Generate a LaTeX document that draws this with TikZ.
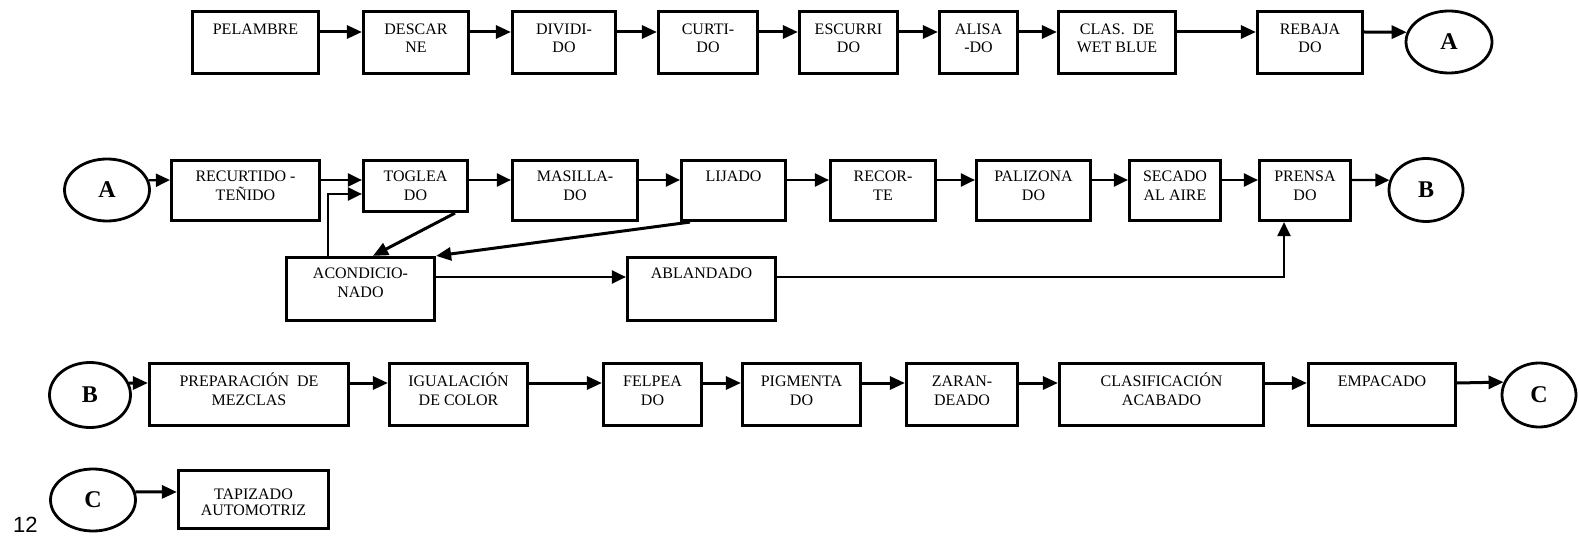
\documentclass[tikz,border=0pt]{standalone}
\usepackage{fontspec}
\setmainfont{Liberation Serif}
\newfontfamily\numfont{Liberation Sans}
\usetikzlibrary{arrows.meta,shapes.geometric}
\newcommand\bx[7][]{%
  \node[box, minimum width={#5-#3-3}, minimum height={#6-#4-3}] (#2) at ({(#3+#5)/2},{(#4+#6)/2}) {};
  \node[txt,#1] (#2t) at ([yshift=-9pt]#2.north) {\rule{0pt}{15pt}#7};
}
\begin{document}
\begin{tikzpicture}[x=1pt,y=-1pt,
  box/.style={draw, line width=3.2pt, inner sep=0pt},
  txt/.style={font=\fontsize{16}{19}\selectfont, align=center, inner sep=0pt, anchor=north},
  rowa/.style={font=\fontsize{16}{18}\selectfont},
  rowb/.style={yshift=1.5pt},
  rowc/.style={yshift=-0.5pt},
  oval/.style={draw, ellipse, line width=2.8pt, inner sep=0pt, font=\fontsize{24}{24}\selectfont\bfseries},
  arr/.style={line width=3pt, -{Triangle[length=15pt,width=13pt]}},
  arrb/.style={line width=2.2pt, -{Triangle[length=14pt,width=13pt]}},
]
\useasboundingbox (0,0) rectangle (1579,537);
\coordinate (ya) at (0,32);
\coordinate (yb) at (0,180);
\coordinate (ybb) at (0,194);
\coordinate (ye) at (0,277);
\coordinate (yc) at (0,383);
\coordinate (yd) at (0,492);

% Row 1
\bx[rowa]{p1}{191}{10}{320}{75}{PELAMBRE}
\bx[rowa]{p2}{362}{10}{470}{75}{DESCAR\\NE}
\bx[rowa]{p3}{511}{10}{617}{75}{DIVIDI-\\DO}
\bx[rowa]{p4}{657}{10}{759}{75}{CURTI-\\DO}
\bx[rowa]{p5}{798}{10}{899}{75}{ESCURRI\\DO}
\bx[rowa]{p6}{938}{10}{1019}{75}{ALISA\\-DO}
\bx[rowa]{p7}{1057}{10}{1177}{75}{CLAS.~~DE\\WET BLUE}
\bx[rowa]{p8}{1256}{10}{1364}{75}{REBAJA\\DO}
\node[oval, minimum width=86pt, minimum height=62pt] (A1) at (1449,42) {A};
\draw[arr] (p1.east |- ya) -- (p2.west |- ya);
\draw[arr] (p2.east |- ya) -- (p3.west |- ya);
\draw[arr] (p3.east |- ya) -- (p4.west |- ya);
\draw[arr] (p4.east |- ya) -- (p5.west |- ya);
\draw[arr] (p5.east |- ya) -- (p6.west |- ya);
\draw[arr] (p6.east |- ya) -- (p7.west |- ya);
\draw[arr] (p7.east |- ya) -- (p8.west |- ya);
\draw[arr] (p8.east |- ya) -- (A1.167);

% Row 2
\node[oval, minimum width=85pt, minimum height=62pt] (A2) at (107,190) {A};
\bx[rowb]{q1}{170}{159}{321}{222}{RECURTIDO -\\TEÑIDO}
\bx[rowb]{q2}{362}{159}{469}{213}{TOGLEA\\DO}
\bx[rowb]{q3}{511}{159}{639}{222}{MASILLA-\\DO}
\bx[rowb]{q4}{680}{159}{787}{222}{LIJADO}
\bx[rowb]{q5}{829}{159}{937}{222}{RECOR-\\TE}
\bx[rowb]{q6}{975}{159}{1092}{222}{PALIZONA\\DO}
\bx[rowb]{q7}{1128}{159}{1222}{222}{SECADO\\AL AIRE}
\bx[rowb]{q8}{1258}{159}{1352}{222}{PRENSA\\DO}
\node[oval, minimum width=74pt, minimum height=63pt] (B1) at (1426,190) {B};
\bx[rowb]{q9}{285}{256}{436}{322}{ACONDICIO-\\NADO}
\bx[rowb]{q10}{626}{256}{777}{322}{ABLANDADO}
\draw[arrb] (A2.13) -- (q1.west |- yb);
\draw[arrb] (q1.east |- yb) -- (q2.west |- yb);
\draw[arrb] (q2.east |- yb) -- (q3.west |- yb);
\draw[arrb] (q3.east |- yb) -- (q4.west |- yb);
\draw[arrb] (q4.east |- yb) -- (q5.west |- yb);
\draw[arrb] (q5.east |- yb) -- (q6.west |- yb);
\draw[arrb] (q6.east |- yb) -- (q7.west |- yb);
\draw[arrb] (q7.east |- yb) -- (q8.west |- yb);
\draw[arrb] (q8.east |- yb) -- (B1.165);
\draw[arrb] ([xshift=-32.5pt]q9.north) |- (q2.west |- ybb);
\draw[arr] ([xshift=39.5pt]q2.south) -- ([xshift=12.5pt]q9.north);
\draw[arr] ([xshift=-43.5pt]q4.south) -- (q9.north east);
\draw[arrb] (q9.east |- ye) -- (q10.west |- ye);
\draw[arrb] (q10.east |- ye) -| ([xshift=-21pt]q8.south);

% Row 3
\node[oval, minimum width=81pt, minimum height=65pt] (B2) at (90,395) {B};
\bx[rowc]{r1}{148}{362}{350}{427}{PREPARACIÓN~~DE\\MEZCLAS}
\bx[rowc]{r2}{388}{362}{529}{427}{IGUALACIÓN\\DE COLOR}
\bx[rowc]{r3}{602}{362}{703}{427}{FELPEA\\DO}
\bx[rowc]{r4}{741}{362}{862}{427}{PIGMENTA\\DO}
\bx[rowc]{r5}{905}{362}{1019}{427}{ZARAN-\\DEADO}
\bx[rowc]{r6}{1058}{362}{1265}{427}{CLASIFICACIÓN\\ACABADO}
\bx[rowc]{r7}{1307}{362}{1457}{427}{EMPACADO}
\node[oval, minimum width=74pt, minimum height=64pt] (C1) at (1539,395) {C};
\draw[arr] (B2.17) -- (r1.west |- yc);
\draw[arr] (r1.east |- yc) -- (r2.west |- yc);
\draw[arr] (r2.east |- yc) -- (r3.west |- yc);
\draw[arr] (r3.east |- yc) -- (r4.west |- yc);
\draw[arr] (r4.east |- yc) -- (r5.west |- yc);
\draw[arr] (r5.east |- yc) -- (r6.west |- yc);
\draw[arr] (r6.east |- yc) -- (r7.west |- yc);
\draw[arr] (r7.east |- yc) -- (C1.160);

% Row 4
\node[oval, minimum width=85pt, minimum height=62pt] (C2) at (93,500) {C};
\bx[yshift=-6.5pt, font=\fontsize{16}{16}\selectfont]{s1}{177}{469}{330}{530}{TAPIZADO\\AUTOMOTRIZ}
\draw[arr] (C2.11) -- (s1.west |- yd);

\node[font=\numfont\fontsize{22}{22}\selectfont, anchor=base west, inner sep=0pt] (pg) at (13,532) {12};
\end{tikzpicture}
\end{document}
